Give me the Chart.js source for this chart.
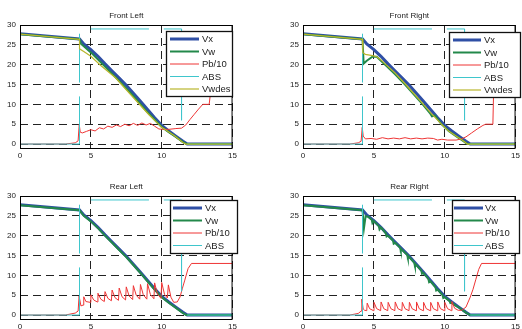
<!DOCTYPE html>
<html>
<head>
<meta charset="utf-8">
<script src="https://cdn.jsdelivr.net/npm/chart.js@4"></script>
<style>
  html, body { margin: 0; padding: 0; background: #fff; overflow: hidden; }
  canvas { position: absolute; }
</style>
</head>
<body>
<canvas id="fl" width="240" height="165" style="left:0px;top:0px"></canvas>
<canvas id="fr" width="240" height="165" style="left:283px;top:0px"></canvas>
<canvas id="rl" width="240" height="158" style="left:0px;top:171px"></canvas>
<canvas id="rr" width="240" height="158" style="left:283px;top:171px"></canvas>

<script>
// axes
var tickX = [0, 5, 10, 15];
var tickY = [0, 5, 10, 15, 20, 25, 30];

// vehicle speed (same for all wheels) [time, value]
var vx = [[0, 27.8], [4.2, 26.5], [4.5, 25.2], [5, 23.8], [5.5, 22.1], [6, 20.2], [6.5, 18.4], [7, 16.6],
  [7.5, 14.8], [8, 12.8], [8.5, 10.8], [9, 8.7], [9.5, 6.6], [10, 4.7], [10.5, 3.3], [11, 2.0],
  [11.5, 0.7], [11.8, 0], [15, 0]];

// ABS flag trace (null = gap)
var abs = [[0, 0], [4.2, 0], [4.2, 12], [4.2, null], [4.2, 15.5], [4.2, 27.8], [4.6, null],
  [5, 29], [9.1, 29], [9.6, null], [10.15, 29], [11.4, 29], [11.4, 6], [11.6, null], [11.8, 0], [15, 0]];

// Front Left
var flVw = [[0, 27.7], [4.2, 26.4], [4.3, 25.3], [5, 23.1], [6, 19.5], [7, 15.9], [8, 12.1], [9, 8.0],
  [10, 4.3], [10.5, 3.0], [11, 1.8], [11.5, 0.5], [11.8, 0], [15, 0]];
var flPb = [[0, 0], [3.2, 0], [3.9, 0.3], [4.1, 0.8], [4.18, 5], [4.25, 3.0], [4.4, 2.8], [4.7, 3.2],
  [5.0, 3.6], [5.3, 3.3], [5.6, 4.1], [5.9, 3.8], [6.2, 4.5], [6.5, 4.2], [6.8, 4.8], [7.1, 4.4],
  [7.4, 5.0], [7.7, 4.6], [8.0, 5.2], [8.3, 4.7], [8.6, 5.3], [8.9, 4.8], [9.2, 5.2], [9.5, 4.5],
  [9.8, 3.8], [10.1, 3.7], [10.5, 3.7], [11.0, 3.9], [11.4, 4.0], [11.7, 4.8], [12.0, 6.2],
  [12.3, 7.5], [12.6, 8.8], [12.9, 10], [13.35, 10], [13.45, 13], [15, 13]];
var flDes = [[0, 27.7], [4.2, 26.4], [4.2, 24], [4.5, 23.3], [5, 22.1], [5.7, 19.8], [6.74, 16.7],
  [7.9, 12.1], [9.07, 7.5], [10, 4.2], [10.9, 2.1], [11.5, 0.4], [11.7, 0], [15, 0]];

// Front Right
var frVw = [[0, 27.7], [4.2, 26.4], [4.28, 20.3], [4.5, 21.0], [4.9, 22.0], [5.2, 22.0], [5.5, 21.0],
  [5.8, 20.0], [6.5, 17.6], [7.2, 15.0], [7.8, 12.6], [8.45, 10.0], [9.0, 7.6], [9.1, 7.0],
  [9.3, 7.2], [9.77, 5.0], [10.3, 3.2], [10.8, 2.0], [11.3, 0.8], [11.6, 0], [15, 0]];
var frPb = [[0, 0], [3.3, 0], [3.9, 0.3], [4.1, 0.7], [4.18, 4.2], [4.25, 2.0], [4.4, 1.3], [4.8, 1.4],
  [5.2, 1.2], [5.6, 1.6], [6.0, 1.3], [6.4, 1.5], [6.8, 1.3], [7.2, 1.6], [7.6, 1.3], [8.0, 1.5],
  [8.4, 1.3], [8.8, 1.5], [9.2, 1.4], [9.5, 1.0], [9.8, 1.2], [10.2, 1.0], [10.8, 1.0], [11.2, 1.3],
  [11.5, 1.8], [11.9, 2.8], [12.3, 3.8], [12.7, 4.7], [12.9, 5], [13.4, 5], [13.45, 13], [15, 13]];
var frDes = [[0, 27.7], [4.2, 26.4], [4.22, 23.0], [4.4, 22.6], [4.9, 22.3], [5.2, 22.0], [5.5, 21.2],
  [5.8, 20.2], [6.5, 17.9], [7.2, 15.2], [7.8, 12.8], [8.45, 10.2], [9.0, 7.9], [9.77, 5.0],
  [10.3, 3.2], [10.8, 2.0], [11.3, 0.8], [11.6, 0], [15, 0]];

// Rear Left
var rlVw = [[0, 27.7], [4.2, 26.4], [4.5, 25.0], [5, 23.6], [5.5, 21.9], [6, 20.0], [6.5, 18.2],
  [7, 16.4], [7.5, 14.6], [8, 12.6], [8.5, 10.6], [9, 8.5], [9.5, 6.4], [10, 4.5], [10.5, 3.1],
  [11, 1.8], [11.5, 0.5], [11.75, 0], [15, 0]];
var rlPb = [[0, 0], [3.2, 0], [3.9, 0.5], [4.1, 1.0], [4.17, 4.8], [4.3, 2.3], [4.45, 2.5], [4.5, 4.6],
  [4.65, 3.4], [4.95, 3.2], [5.0, 5.1], [5.2, 3.8], [5.45, 3.3], [5.5, 5.5], [5.7, 4.0], [5.95, 3.4],
  [6.0, 5.9], [6.2, 4.2], [6.45, 3.6], [6.5, 6.3], [6.7, 4.4], [6.95, 3.7], [7.0, 6.8], [7.2, 4.6],
  [7.45, 3.8], [7.5, 7.1], [7.7, 4.8], [7.95, 3.9], [8.0, 7.4], [8.2, 5.0], [8.45, 4.0], [8.5, 7.7],
  [8.7, 5.1], [8.95, 4.0], [9.0, 7.9], [9.2, 5.2], [9.45, 4.1], [9.5, 8.1], [9.7, 5.3], [9.95, 4.2],
  [10.0, 8.2], [10.2, 5.2], [10.4, 4.3], [10.47, 7.6], [10.65, 4.5], [10.85, 3.2], [11.1, 3.3],
  [11.3, 4.6], [11.45, 6.6], [11.63, 8.8], [11.86, 11.7], [12.1, 13], [15, 13]];

// Rear Right
var rrVw = [[0, 27.7], [4.2, 26.4], [4.3, 21.8], [4.42, 24.9], [4.6, 24.8], [4.85, 24.0], [4.9, 23.2],
  [5.0, 23.7], [5.35, 22.4], [5.4, 21.6], [5.5, 22.1], [5.85, 20.6], [5.9, 19.8], [6.0, 20.0],
  [6.35, 18.8], [6.4, 18.0], [6.5, 18.2], [6.85, 17.0], [6.9, 16.2], [7.0, 16.4], [7.35, 15.2],
  [7.4, 14.4], [7.5, 14.6], [7.85, 13.2], [7.9, 12.4], [8.0, 12.6], [8.35, 11.2], [8.4, 10.4],
  [8.5, 10.6], [8.85, 9.1], [8.9, 8.3], [9.0, 8.5], [9.35, 7.0], [9.4, 6.2], [9.5, 6.4],
  [9.85, 5.0], [9.9, 4.3], [10.0, 4.5], [10.35, 3.5], [10.4, 3.0], [10.5, 3.1], [10.8, 2.3],
  [11.0, 1.9], [11.5, 0.6], [11.8, 0], [15, 0]];
var rrPb = [[0, 0], [3.3, 0], [3.9, 0.4], [4.1, 1], [4.15, 4.0], [4.25, 1.5], [4.35, 1.2], [4.5, 1.1],
  [4.53, 3.0], [4.7, 1.6], [4.98, 1.1], [5.01, 3.2], [5.2, 1.6], [5.48, 1.1], [5.51, 3.3], [5.7, 1.6],
  [5.98, 1.1], [6.01, 3.2], [6.2, 1.6], [6.48, 1.1], [6.51, 3.3], [6.7, 1.6], [6.98, 1.1], [7.01, 3.2],
  [7.2, 1.6], [7.48, 1.1], [7.51, 3.2], [7.7, 1.6], [7.98, 1.1], [8.01, 3.3], [8.2, 1.6], [8.48, 1.1],
  [8.51, 3.2], [8.7, 1.6], [8.98, 1.1], [9.01, 3.2], [9.2, 1.6], [9.48, 1.1], [9.51, 3.3], [9.7, 1.6],
  [9.98, 1.1], [10.01, 3.2], [10.2, 1.6], [10.48, 1.1], [10.51, 3.4], [10.7, 1.7], [10.95, 1.2],
  [11.2, 1.2], [11.5, 2.0], [11.8, 4.5], [12.0, 6.5], [12.2, 9], [12.4, 11.5], [12.6, 13], [15, 13]];

var colVx = '#2f4fa5', colVw = '#23884a', colPb = '#ee3535', colAbs = '#3fc6cc', colDes = '#b9b62c';

function pts(arr) {
  return arr.map(function (p) { return {x: p[0], y: p[1]}; });
}

function series(label, arr, color, width, order) {
  return {label: label, data: pts(arr), borderColor: color, backgroundColor: color,
    borderWidth: width, pointRadius: 0, fill: false, spanGaps: false, order: order};
}

// axes box, title and matlab-like legend
var framePlugin = {
  id: 'frame',
  afterDraw: function (chart, args, o) {
    var ctx = chart.ctx, a = chart.chartArea;
    ctx.save();
    ctx.strokeStyle = '#000';
    ctx.lineWidth = 1;
    ctx.strokeRect(a.left + 0.5, a.top + 0.5, a.right - a.left - 1, a.bottom - a.top);

    ctx.fillStyle = '#222';
    ctx.font = '8px "Liberation Sans", Arial, sans-serif';
    ctx.textAlign = 'center';
    ctx.textBaseline = 'middle';
    ctx.fillText(o.title, (a.left + a.right) / 2, 16);

    var L = o.legend;
    ctx.fillStyle = '#fff';
    ctx.fillRect(L.x, L.y, L.w, L.h);
    ctx.lineWidth = 1.3;
    ctx.strokeStyle = '#111';
    ctx.strokeRect(L.x + 0.5, L.y + 0.5, L.w, L.h);
    ctx.font = '9.5px "Liberation Sans", Arial, sans-serif';
    ctx.textAlign = 'left';
    chart.data.datasets.forEach(function (ds, i) {
      var y = L.y + 8 + i * 12.5;
      ctx.strokeStyle = ds.borderColor;
      ctx.lineWidth = ds.borderWidth;
      ctx.beginPath();
      ctx.moveTo(L.x + L.l0, y);
      ctx.lineTo(L.x + L.l1, y);
      ctx.stroke();
      ctx.fillStyle = '#222';
      ctx.fillText(ds.label, L.x + L.tx, y + 0.5);
    });
    ctx.restore();
  }
};

function makeChart(id, title, datasets, legend, xH) {
  return new Chart(document.getElementById(id), {
    type: 'line',
    data: {datasets: datasets},
    options: {
      responsive: false,
      animation: false,
      devicePixelRatio: 1,
      layout: {padding: {left: 0, right: 5, top: 25, bottom: 0}},
      plugins: {
        legend: {display: false},
        tooltip: {enabled: false},
        frame: {title: title, legend: legend}
      },
      scales: {
        x: {
          type: 'linear', min: 0, max: 15,
          afterBuildTicks: function (s) { s.ticks = tickX.map(function (v) { return {value: v}; }); },
          afterFit: function (s) { s.height = xH; },
          ticks: {padding: 3, color: '#222', font: {size: 8, family: '"Liberation Sans", Arial'}, maxRotation: 0},
          border: {display: false, dash: [8, 5]},
          grid: {drawTicks: false, color: '#222', lineWidth: 1}
        },
        y: {
          type: 'linear', min: -1, max: 30,
          afterBuildTicks: function (s) { s.ticks = tickY.map(function (v) { return {value: v}; }); },
          afterFit: function (s) { s.width = 20; },
          ticks: {padding: 4, color: '#222', font: {size: 8, family: '"Liberation Sans", Arial'}},
          border: {display: false, dash: [8, 5]},
          grid: {drawTicks: false, color: '#222', lineWidth: 1}
        }
      }
    },
    plugins: [framePlugin]
  });
}

function wheel(vw, pb, des) {
  var ds = [
    series('Vx', vx, colVx, 3, 5),
    series('Vw', vw, colVw, 2, 4),
    series('Pb/10', pb, colPb, 1, 3),
    series('ABS', abs, colAbs, 1, 2)
  ];
  if (des) ds.push(series('Vwdes', des, colDes, 1.2, 1));
  return ds;
}

makeChart('fl', 'Front Left', wheel(flVw, flPb, flDes), {x: 166, y: 31, w: 66, h: 65, l0: 4, l1: 33, tx: 36}, 17);
makeChart('fr', 'Front Right', wheel(frVw, frPb, frDes), {x: 166, y: 32, w: 71, h: 65, l0: 4, l1: 32, tx: 35}, 17);
makeChart('rl', 'Rear Left', wheel(rlVw, rlPb), {x: 170, y: 29, w: 67, h: 53, l0: 3, l1: 32, tx: 35}, 10);
makeChart('rr', 'Rear Right', wheel(rrVw, rrPb), {x: 169, y: 29, w: 67, h: 53, l0: 2, l1: 31, tx: 33}, 10);
</script>
</body>
</html>
